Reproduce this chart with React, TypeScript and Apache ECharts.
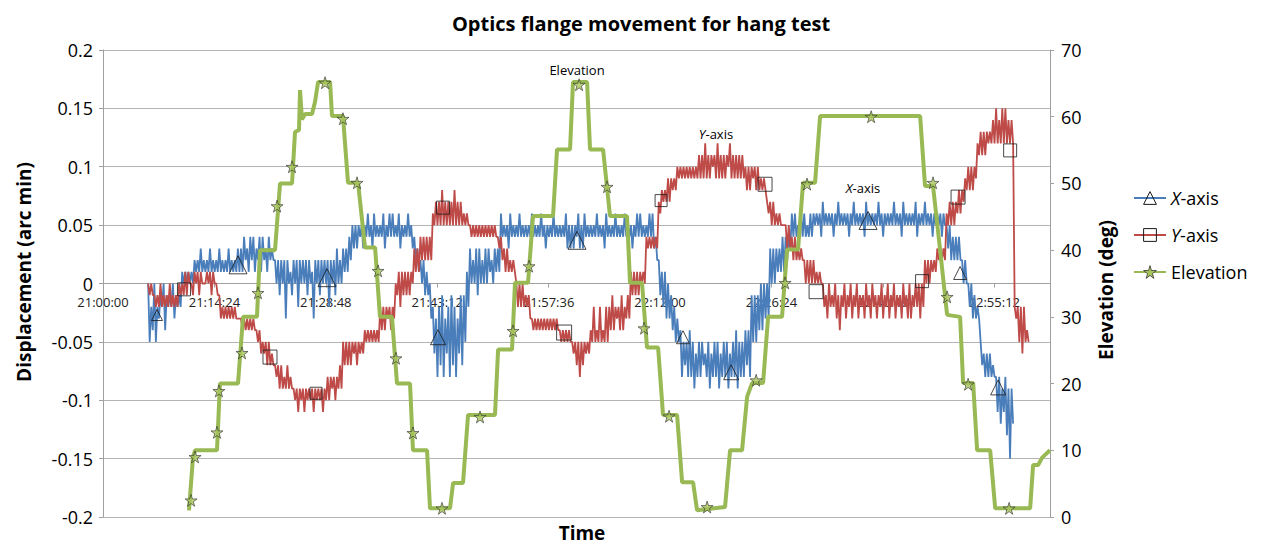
import React, { useEffect, useRef } from "react";
import * as echarts from "echarts";

// ---- time axis (seconds after 21:00:00) ----
const X_MIN = 0;
const X_MAX = 7344; // 23:02:24
const X_INTERVAL = 864; // 14:24
const BASE_HOUR = 21;

// ---- displacement readings (hundredths of arc min) ----
// one reading window every STEP seconds from T0; HI = upper reading, LO = lower reading in the window
const T0 = 350;
const STEP = 24;

const X_HI = [
  0, -2, 0, -2,
  -1, 0, -1, -1, 0, -1, -1,
  1, 1, 1, 1, 2,
  2, 3, 2, 2, 3, 2, 2, 3, 2, 2, 3, 2, 2, 3,
  3, 4, 3, 4, 4, 3, 4, 4, 3, 4, 3,
  2, 2, 2, 2, 2, 1, 2, 2, 2, 2, 2, 2, 1, 2, 2, 2, 2, 2, 2, 2, 3, 2, 3, 3,
  4, 5, 5, 5, 5,
  5, 6, 5, 6, 5, 5, 6, 5, 6, 6, 5, 6, 5, 5, 6, 5,
  4, 3, 2, 2, 1, 0,
  -2, -3, -2, -1, -3, -2, -1, -2, -3, -1, -1,
  1, 3, 2, 3, 3, 2, 3, 3, 2, 3, 3,
  6, 5, 5, 6, 5, 5, 6, 5, 5, 5, 6, 5, 5, 6, 5, 5, 5, 6, 5, 5,
  5, 6, 5, 5, 5, 6, 5, 6, 5, 5, 5, 6, 5, 5, 6, 5, 5, 6, 5, 5,
  6, 5, 5, 5, 6, 6, 5, 5, 6, 6,
  4, 2, 1, 1, 0, -1, -2, -3,
  -4, -5, -5, -4, -5, -6, -5, -5, -6, -5, -6, -5, -5, -6, -5, -5, -6, -5, -4, -5, -5, -4, -4,
  -1, -1, -1, 0, 0, 0,
  3, 3, 3, 3, 4, 4, 4,
  6, 6, 5, 6, 6, 5, 6,
  6, 6, 6, 7, 6, 6, 6, 6, 7, 6, 6, 6, 6, 7, 6, 6, 6, 7, 6, 6,
  6, 7, 6, 6, 6, 6, 7, 6, 6, 7, 6, 6, 6, 7, 6, 6, 7, 6, 6, 6,
  6, 6, 6,
  5, 5, 4, 4, 4,
  2, 2,
  0, 0, -1, -2,
  -5, -6, -6, -6, -7,
  -8, -8, -9, -8, -9, -9,
];

const X_LO = [
  -5, -4, -5, -3,
  -2, -4, -2, -2, -3, -2, -2,
  0, 0, 0, 0, 1,
  1, 1, 1, 1, 1, 1, 1, 1, 1, 1, 1, 1, 1, 1,
  1, 2, 1, 2, 1, 2, 1, 2, 1, 2, 2,
  0, -1, 0, -3, 0, -1, 0, -2, 0, 0, -1, 0, -3, 0, -1, 0, 0, -2, 0, -1, 0, 0, 1, 1,
  2, 3, 3, 4, 3,
  4, 4, 3, 4, 4, 4, 3, 4, 4, 4, 4, 3, 4, 4, 4, 3,
  2, 1, 0, -1, -1, -3,
  -6, -8, -7, -8, -6, -8, -7, -8, -6, -7, -5,
  -2, 0, 0, -1, 0, 0, 0, 1, 0, 1, 1,
  4, 4, 3, 4, 4, 4, 4, 4, 4, 4, 4, 4, 4, 4, 3, 4, 4, 4, 4, 4,
  4, 3, 3, 3, 4, 3, 3, 4, 4, 4, 4, 4, 4, 3, 4, 4, 4, 4, 4, 4,
  4, 4, 3, 4, 4, 4, 4, 4, 4, 3,
  2, -1, -2, -3, -3, -4, -5, -5,
  -8, -7, -8, -8, -9, -8, -8, -7, -8, -9, -8, -8, -9, -8, -8, -9, -8, -8, -9, -8, -8, -7, -8,
  -5, -5, -4, -4, -3, -3,
  0, 0, 1, 1, 1, 2, 3,
  4, 4, 4, 4, 4, 4, 4,
  5, 5, 4, 5, 5, 5, 4, 5, 5, 5, 5, 4, 5, 5, 5, 5, 4, 5, 5, 5,
  5, 5, 4, 5, 5, 5, 5, 5, 4, 5, 5, 5, 5, 4, 5, 5, 5, 5, 4, 5,
  5, 4, 5,
  3, 2, 2, 2, 2,
  0, 0,
  -2, -3, -3, -3,
  -7, -8, -8, -8, -8,
  -11, -12, -11, -13, -15, -12,
];

const Y_HI = [
  0, 0,
  -1, -1, 0, -1, -1, 0, -1, -1, 0,
  0, 1, 1, 0, 1, 1, 1, 0, 1, 1, 1, 0,
  -1, -2, -2, -2, -2, -2, -3,
  -3, -3, -3, -3, -3, -4,
  -4, -5, -5, -5, -6,
  -7, -7, -7, -8, -7, -8,
  -9, -9, -9, -9, -9, -9, -9, -9, -9, -9, -9, -8,
  -8, -8, -8, -7,
  -5, -5, -5, -5, -5, -5, -5,
  -4, -4, -4, -4, -4,
  -2, -2, -2, -2, -2,
  0, 1, 1, 1, 1, 1,
  3, 3, 4, 4, 4, 4,
  6, 7, 7, 8, 7, 7, 7, 8, 7, 7, 6, 6,
  5, 5, 5, 5, 5, 5, 5, 5, 5,
  4, 4, 3, 3, 2, 2,
  0, 0, 0, -1, -1,
  -3, -3, -3, -3, -3, -3, -3, -3, -3, -4, -4, -4, -4,
  -5, -5, -5, -5, -5, -5,
  -4, -2, -4, -2, -4, -2,
  -2, -1, -2, -2, -1, -2, -1,
  1, 1, 1, 1, 1,
  4, 4, 4, 4,
  7, 8, 8, 9, 9, 9,
  10, 10, 10, 10, 10, 10, 10, 11,
  11, 12, 11, 11, 11, 12, 11, 11, 11, 12, 11, 11, 11, 11,
  10, 10, 10, 10, 10, 9, 9,
  7, 7, 7, 6, 6, 5,
  5, 5, 4, 4, 3, 3,
  2, 2, 2, 2, 1, 1,
  0, -1, 0, -1, 0, -1, -1, 0, -1, 0, -1, 0, -1, -1, 0, -1, 0,
  -1, -1, 0, -1, 0, -1, 0, -1, -1, 0, -1, 0, -1, 0, 0, 0,
  2, 2, 2, 2,
  3, 3, 3,
  6, 7, 7,
  7, 8, 8,
  9, 10, 10, 10,
  12, 13, 13, 13, 13,
  14, 15, 14, 15, 15, 14, 14,
  -2, -2, -2, -2, -4,
];

const Y_LO = [
  -1, -1,
  -2, -2, -2, -2, -2, -2, -2, -2, -1,
  -1, -1, 0, -1, 0, -1, 0, 0, 0, -1, 0, -1,
  -3, -3, -3, -3, -3, -3, -3,
  -4, -4, -4, -4, -4, -5,
  -6, -6, -7, -7, -7,
  -8, -9, -9, -9, -9, -9,
  -10, -11, -10, -11, -10, -10, -11, -10, -10, -11, -10, -10,
  -9, -10, -9, -9,
  -7, -7, -7, -6, -7, -6, -6,
  -5, -5, -5, -5, -5,
  -4, -4, -3, -4, -3,
  -1, -2, -1, -1, -1, 0,
  1, 1, 2, 2, 2, 2,
  5, 5, 5, 5, 5, 5, 5, 5, 5, 5, 5, 5,
  4, 4, 4, 4, 4, 4, 4, 4, 4,
  3, 2, 1, 1, 1, 1,
  -2, -2, -2, -2, -3,
  -4, -4, -4, -4, -4, -4, -4, -4, -4, -5, -5, -5, -5,
  -6, -7, -8, -7, -6, -6,
  -5, -5, -5, -5, -5, -5,
  -4, -4, -3, -4, -4, -3, -3,
  -1, -1, -1, 0, 0,
  3, 3, 3, 3,
  6, 7, 7, 7, 8, 8,
  9, 9, 9, 9, 9, 9, 9, 9,
  9, 9, 9, 10, 9, 9, 9, 9, 10, 9, 9, 9, 9, 9,
  8, 8, 9, 8, 8, 8, 8,
  6, 5, 5, 5, 5, 5,
  3, 3, 2, 2, 2, 2,
  0, 0, 0, 0, 0, 0,
  -2, -3, -2, -2, -3, -4, -2, -3, -2, -3, -2, -3, -2, -3, -2, -3, -2,
  -3, -2, -3, -2, -3, -2, -3, -2, -3, -2, -3, -3, -2, -2, -3, -2,
  0, 0, 1, 1,
  2, 2, 2,
  5, 5, 5,
  6, 6, 7,
  8, 8, 8, 9,
  11, 11, 11, 12, 12,
  12, 12, 12, 12, 12, 12, 12,
  -3, -5, -6, -5, -5,
];

// ---- elevation (deg) vertices ----
const ELEV_T = [
  667, 698, 714, 884, 907, 1047, 1086, 1194, 1218, 1334, 1373, 1466, 1489, 1520, 1528, 1543,
  1567, 1621, 1644, 1668, 1761, 1776, 1861, 1900, 1978, 2032, 2110, 2148, 2241, 2280, 2381,
  2404, 2513, 2536, 2691, 2715, 2792, 2831, 3040, 3064, 3172, 3195, 3296, 3335, 3490, 3521,
  3622, 3645, 3754, 3777, 3878, 3932, 4064, 4087, 4180, 4219, 4305, 4343, 4452, 4491, 4576,
  4607, 4824, 4863, 4956, 4995, 5034, 5119, 5158, 5266, 5305, 5390, 5429, 5522, 5561, 6337,
  6375, 6437, 6492, 6546, 6647, 6670, 6748, 6779, 6880, 6919, 7190, 7213, 7252, 7283, 7344,
];
const ELEV_V = [
  1.0, 9, 10, 10, 20, 20, 30, 30, 40, 40, 50, 50, 57.7, 58, 64, 59.6,
  60.4, 60.4, 62.2, 65.2, 65.2, 60.1, 60.1, 50.1, 50.1, 40.4, 40.4, 30, 30, 20, 20,
  10, 10, 1.3, 1.3, 5.1, 5.1, 15.3, 15.3, 25.1, 25.1, 35.1, 35.1, 45.1, 45.1, 55.1,
  55.1, 65.2, 65.2, 55.1, 55.1, 45.1, 45.1, 35.1, 35.1, 25.4, 25.4, 15.3, 15.3, 5.2, 5.2,
  1.0, 1.5, 10, 10, 18, 20.1, 20.1, 30, 30, 40.1, 40.1, 50.1, 50.1, 60.1, 60.1,
  49.6, 49.6, 40, 30.3, 30, 20.1, 20.1, 10, 10, 1.3, 1.3, 7.8, 7.8, 8.9, 10,
];

// ---- marker points ----
const X_MARK_T = [419, 1047, 1737, 2598, 3676, 4498, 4871, 5933, 6647, 6942];
const X_MARK_V = [-0.027, 0.016, 0.005, -0.046, 0.037, -0.046, -0.076, 0.054, 0.009, -0.089];
const X_MARK_SIZE = [11, 18, 18, 15, 18, 13, 15, 18, 13, 15];

const Y_MARK_T = [628, 1295, 1652, 2637, 3576, 4328, 5134, 5530, 6352, 6631, 7035];
const Y_MARK_V = [-0.005, -0.063, -0.094, 0.065, -0.042, 0.071, 0.085, -0.007, 0.002, 0.074, 0.114];
const Y_MARK_SIZE = [13, 14, 12, 13, 15, 12, 14, 14, 13, 14, 13];

const STAR_T = [683, 714, 884, 899, 1078, 1202, 1350, 1466, 1722, 1861, 1970, 2133, 2272, 2404,
  2629, 2924, 3180, 3304, 3692, 3909, 4196, 4390, 4685, 5065, 5290, 5460, 5957, 6437, 6546, 6709, 7027];
const STAR_V = [2.5, 9.0, 12.7, 18.9, 24.6, 33.6, 46.6, 52.5, 65.1, 59.7, 50.1, 36.9, 23.8, 12.6,
  1.3, 15.0, 27.9, 37.6, 64.8, 49.5, 28.3, 15.1, 1.5, 20.5, 35.1, 49.9, 60.0, 50.1, 33.0, 19.9, 1.3];

const FONT = "'Open Sans', 'Noto Sans', sans-serif";
const BLUE = "#4A7EBB";
const RED = "#BE4B48";
const GREEN = "#98B954";
const STAR_FILL = "#A9C65C";
const GRID = "#B4B4B4";
const AXIS = "#A0A0A0";
const STAR = "path://M50,0L61,35L98,35L68,57L79,91L50,70L21,91L32,57L2,35L39,35Z";

function fmtTime(v: number): string {
  const s = Math.round(BASE_HOUR * 3600 + v);
  const h = Math.floor(s / 3600) % 24;
  const m = Math.floor((s % 3600) / 60);
  const sec = s % 60;
  const p = (n: number) => String(n).padStart(2, "0");
  return `${p(h)}:${p(m)}:${p(sec)}`;
}

function bandPoints(hi: number[], lo: number[]): number[][] {
  const pts: number[][] = [];
  hi.forEach((h, i) => {
    pts.push([T0 + STEP * i, h / 100]);
    pts.push([T0 + STEP * i + STEP / 2, lo[i] / 100]);
  });
  return pts;
}

export default function App() {
  const ref = useRef<HTMLDivElement>(null);

  useEffect(() => {
    if (!ref.current) return;
    const chart = echarts.init(ref.current, undefined, { renderer: "svg" });

    const xData = bandPoints(X_HI, X_LO);
    const yData = bandPoints(Y_HI, Y_LO);
    const eData = ELEV_T.map((t, i) => [t, ELEV_V[i]]);
    const xMarks = X_MARK_T.map((t, i) => ({ value: [t, X_MARK_V[i]], symbolSize: X_MARK_SIZE[i] }));
    const yMarks = Y_MARK_T.map((t, i) => ({ value: [t, Y_MARK_V[i]], symbolSize: Y_MARK_SIZE[i] }));
    const stars = STAR_T.map((t, i) => [t, STAR_V[i]]);

    const hollow = { color: "rgba(0,0,0,0)", borderColor: "#1a1a1a", borderWidth: 1 };
    const boldTitle = (text: string, x: number, y: number, rot = 0) => ({
      type: "text",
      x,
      y,
      rotation: rot,
      style: {
        text,
        fontFamily: FONT,
        fontSize: 19,
        fontWeight: "bold",
        fill: "#000",
        align: "center",
        verticalAlign: "middle",
      },
    });
    const note = (text: string, x: number, y: number) => ({
      type: "text",
      x,
      y,
      style: {
        text,
        fontFamily: FONT,
        fontSize: 13,
        fill: "#000",
        align: "center",
        verticalAlign: "middle",
        rich: { i: { fontFamily: FONT, fontSize: 13, fontStyle: "italic", fill: "#000" } },
      },
    });

    chart.setOption({
      animation: false,
      backgroundColor: "#fff",
      title: {
        text: "Optics flange movement for hang test",
        left: 636,
        top: 8,
        textAlign: "center",
        textStyle: { fontFamily: FONT, fontSize: 20, fontWeight: "bold", color: "#000" },
      },
      grid: { left: 103, right: 214, top: 50, bottom: 30, containLabel: false },
      legend: {
        orient: "vertical",
        left: 1128,
        top: 184,
        itemWidth: 32,
        itemHeight: 16,
        itemGap: 19,
        selectedMode: false,
        formatter: (name: string) =>
          name === "X-axis" ? "{i|X}-axis" : name === "Y-axis" ? "{i|Y}-axis" : name,
        textStyle: {
          fontFamily: FONT,
          fontSize: 18,
          color: "#000",
          rich: { i: { fontFamily: FONT, fontSize: 18, fontStyle: "italic", color: "#000" } },
        },
        data: [
          { name: "X-axis", itemStyle: hollow },
          { name: "Y-axis", itemStyle: hollow },
          { name: "Elevation", itemStyle: { color: STAR_FILL, borderColor: "#333", borderWidth: 0.8 } },
        ],
      },
      xAxis: {
        type: "value",
        min: X_MIN,
        max: X_MAX,
        interval: X_INTERVAL,
        position: "bottom",
        offset: -233.5,
        axisLine: { onZero: false, lineStyle: { color: AXIS, width: 1 } },
        axisTick: { show: true, length: 4, lineStyle: { color: AXIS } },
        axisLabel: {
          formatter: fmtTime,
          fontFamily: FONT,
          fontSize: 13,
          color: "#222",
          margin: 12,
          showMaxLabel: false,
        },
        splitLine: { show: false },
      },
      yAxis: [
        {
          type: "value",
          min: -0.2,
          max: 0.2,
          interval: 0.05,
          axisLine: { show: true, onZero: false, lineStyle: { color: AXIS } },
          axisTick: { show: true, length: 4, lineStyle: { color: AXIS } },
          axisLabel: {
            fontFamily: FONT,
            fontSize: 18,
            color: "#000",
            margin: 10,
            formatter: (v: number) => String(Math.round(v * 100) / 100),
          },
          splitLine: { show: true, lineStyle: { color: GRID, width: 1 } },
        },
        {
          type: "value",
          min: 0,
          max: 70,
          interval: 10,
          position: "right",
          axisLine: { show: true, onZero: false, lineStyle: { color: AXIS } },
          axisTick: { show: true, length: 4, lineStyle: { color: AXIS } },
          axisLabel: { fontFamily: FONT, fontSize: 18, color: "#000", margin: 11 },
          splitLine: { show: false },
        },
      ],
      graphic: [
        boldTitle("Displacement (arc min)", 24, 272, Math.PI / 2),
        boldTitle("Elevation (deg)", 1106, 290, Math.PI / 2),
        boldTitle("Time", 582, 533),
        note("Elevation", 577, 70),
        note("{i|Y}-axis", 716, 134),
        note("{i|X}-axis", 863, 188),
      ],
      series: [
        {
          name: "X-axis",
          type: "line",
          yAxisIndex: 0,
          data: xData,
          showSymbol: false,
          symbol: "triangle",
          lineStyle: { color: BLUE, width: 1.8 },
          itemStyle: { color: BLUE },
          z: 2,
          silent: true,
        },
        {
          name: "Y-axis",
          type: "line",
          yAxisIndex: 0,
          data: yData,
          showSymbol: false,
          symbol: "rect",
          lineStyle: { color: RED, width: 1.8 },
          itemStyle: { color: RED },
          z: 3,
          silent: true,
        },
        {
          name: "Elevation",
          type: "line",
          yAxisIndex: 1,
          data: eData,
          showSymbol: false,
          symbol: STAR,
          lineStyle: { color: GREEN, width: 4 },
          itemStyle: { color: GREEN },
          z: 4,
          silent: true,
        },
        {
          name: "X-axis",
          type: "scatter",
          yAxisIndex: 0,
          symbol: "triangle",
          data: xMarks,
          itemStyle: hollow,
          z: 5,
          silent: true,
        },
        {
          name: "Y-axis",
          type: "scatter",
          yAxisIndex: 0,
          symbol: "rect",
          data: yMarks,
          itemStyle: hollow,
          z: 5,
          silent: true,
        },
        {
          name: "Elevation",
          type: "scatter",
          yAxisIndex: 1,
          symbol: STAR,
          symbolSize: 12,
          data: stars,
          itemStyle: { color: STAR_FILL, borderColor: "#333", borderWidth: 0.8 },
          z: 6,
          silent: true,
        },
      ],
    });

    return () => chart.dispose();
  }, []);

  return (
    <div
      ref={ref}
      style={{ position: "fixed", left: 0, top: 0, width: 1264, height: 547, background: "#fff" }}
    />
  );
}
